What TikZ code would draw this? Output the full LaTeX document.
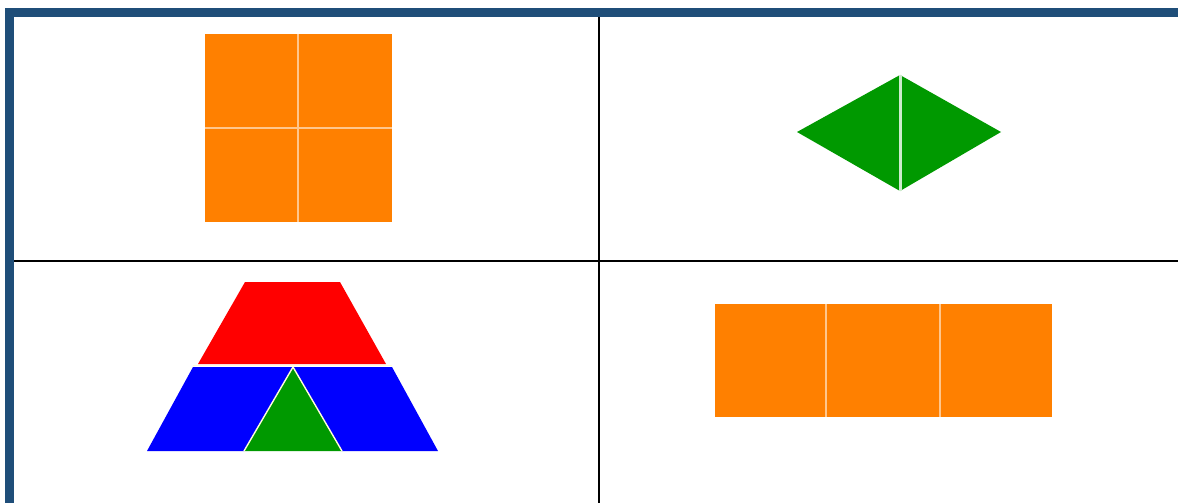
\documentclass[tikz,border=0pt]{standalone}
\begin{document}
\begin{tikzpicture}[x=1pt,y=-1pt,
  frame/.style={fill=framecol},
  grid/.style={black,line width=2pt},
  og/.style={fill=ornge},
  gr/.style={fill=grn},
  rd/.style={fill=red},
  bl/.style={fill=blue},
  sepO/.style={draw=ornge!45!white,line width=1.6pt},
  sepG/.style={draw=grn!20!white,line width=2.5pt},
  sepT/.style={draw=white!85!yellow,line width=1.4pt}]
\definecolor{framecol}{HTML}{1F4E79}
\definecolor{ornge}{HTML}{FF8000}
\definecolor{grn}{HTML}{009900}
\useasboundingbox (0,0) rectangle (1178,503);
\fill[white] (0,0) rectangle (1178,503);
% frame
\path[frame] (5,8) rectangle (1178,17);
\path[frame] (5,8) rectangle (14,503);
% grid lines
\draw[grid] (599,17) -- (599,503);
\draw[grid] (14,261) -- (1178,261);
% top-left square
\path[og] (205,34) rectangle (392,222);
\draw[sepO] (298,34) -- (298,222);
\draw[sepO] (205,128) -- (392,128);
% diamond
\path[gr] (797,132) -- (900,75) -- (900,191) -- cycle;
\path[gr] (900,75) -- (1001,132) -- (900,191) -- cycle;
\draw[sepG] (900.5,75) -- (900.5,191);
% trapezoid figure
\path[rd] (245,282) -- (340,282) -- (386,364) -- (198,364) -- cycle;
\path[bl] (193,367) -- (293,367) -- (244,451) -- (147,451) -- cycle;
\path[bl] (293,367) -- (392,367) -- (438,451) -- (342,451) -- cycle;
\path[gr] (293,367) -- (342,451) -- (244,451) -- cycle;
\draw[sepT] (193,365.5) -- (392,365.5);
\draw[sepT] (293,367) -- (244,451);
\draw[sepT] (293,367) -- (342,451);
% bottom-right rectangle
\path[og] (715,304) rectangle (1052,417);
\draw[sepO] (826,304) -- (826,417);
\draw[sepO] (940,304) -- (940,417);
\end{tikzpicture}
\end{document}
